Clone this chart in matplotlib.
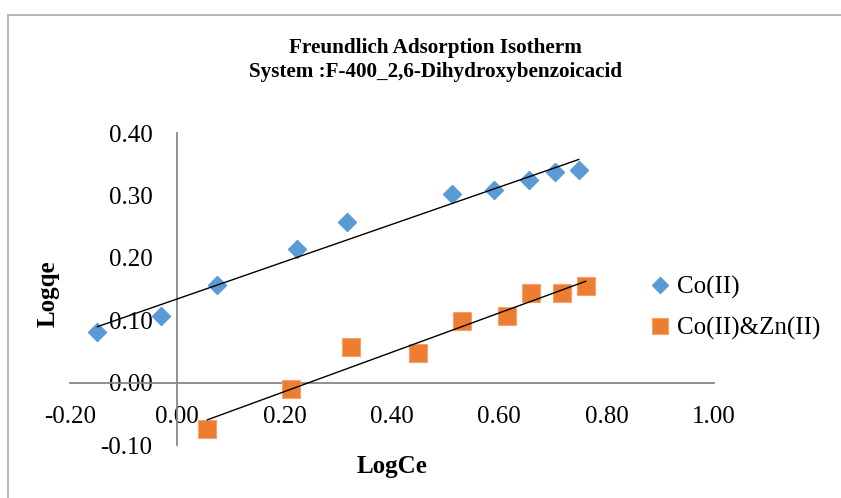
import numpy as np
import matplotlib
matplotlib.use("Agg")
import matplotlib.pyplot as plt
from matplotlib.patches import Rectangle

# Data
co_x = [-0.149, -0.030, 0.073, 0.223, 0.316, 0.512, 0.590, 0.655, 0.703, 0.748]
co_y = [0.081, 0.107, 0.156, 0.214, 0.257, 0.302, 0.309, 0.325, 0.338, 0.340]
cozn_x = [0.056, 0.212, 0.324, 0.448, 0.530, 0.614, 0.659, 0.716, 0.761]
cozn_y = [-0.075, -0.010, 0.057, 0.047, 0.099, 0.106, 0.143, 0.143, 0.155]
x_ticks = [-0.20, 0.00, 0.20, 0.40, 0.60, 0.80, 1.00]
y_ticks = [-0.10, 0.00, 0.10, 0.20, 0.30, 0.40]
series_names = ["Co(II)", "Co(II)&Zn(II)"]
title_lines = ["Freundlich Adsorption Isotherm", "System :F-400_2,6-Dihydroxybenzoicacid"]

plt.rcParams['font.family'] = ['Liberation Serif', 'DejaVu Serif']

W, H = 841, 498
fig = plt.figure(figsize=(W / 100, H / 100), dpi=100)
fig.patch.set_facecolor('white')

# outer chart border
fig.patches.append(Rectangle((8 / W, -0.1), 1.2, 1 - 15 / H + 0.1, transform=fig.transFigure,
                             fill=False, edgecolor='#b0b0b0', linewidth=1.3))

ax = fig.add_axes([70 / W, 1 - 445 / H, (714 - 70) / W, (445 - 133) / H])
ax.set_xlim(-0.2, 1.0)
ax.set_ylim(-0.1, 0.4)

for s in ['top', 'right']:
    ax.spines[s].set_visible(False)
ax.spines['left'].set_position(('data', 0))
ax.spines['bottom'].set_position(('data', 0))
for s in ['left', 'bottom']:
    ax.spines[s].set_color('#878787')
    ax.spines[s].set_linewidth(1.3)

ax.set_xticks(x_ticks)
ax.set_yticks(y_ticks)
ax.set_xticklabels([f"{v:.2f}" for v in x_ticks])
ax.set_yticklabels([f"{v:.2f}" for v in y_ticks])
ax.tick_params(axis='both', length=0, labelsize=18, colors='black')
ax.tick_params(axis='x', pad=17)
ax.tick_params(axis='y', pad=18)

blue = '#5B9BD5'
orange = '#ED7D31'

ax.plot(co_x, co_y, linestyle='none', marker='D', markersize=9.5, color=blue,
        markeredgecolor=blue, label=series_names[0], zorder=3)
ax.plot(cozn_x, cozn_y, linestyle='none', marker='s', markersize=13.5, color=orange,
        markeredgecolor='#f3a36f', markeredgewidth=0.8, label=series_names[1], zorder=3)

# linear trendlines
for xs, ys in [(co_x, co_y), (cozn_x, cozn_y)]:
    xs = np.asarray(xs)
    k, b = np.polyfit(xs, ys, 1)
    xx = np.array([xs.min(), xs.max()])
    ax.plot(xx, k * xx + b, color='black', linewidth=1.0, zorder=4)

leg = ax.legend(loc='center left', bbox_to_anchor=(647 / W, 1 - 308 / H),
                bbox_transform=fig.transFigure, frameon=False, fontsize=18,
                borderpad=0, borderaxespad=0, handlelength=1.0, handletextpad=0.2,
                labelspacing=0.7, markerscale=0.85)

fig.text(435 / W, 1 - 48 / H, title_lines[0], ha='center', va='center',
         fontsize=15.2, fontweight='bold')
fig.text(435 / W, 1 - 72 / H, title_lines[1], ha='center', va='center',
         fontsize=15.2, fontweight='bold')

fig.text(392 / W, 1 - 466 / H, "LogCe", ha='center', va='center', fontsize=18, fontweight='bold')
fig.text(48 / W, 1 - 294 / H, "Logqe", ha='center', va='center', fontsize=18,
         fontweight='bold', rotation=90)

fig.savefig('out.png', dpi=100, facecolor='white')
